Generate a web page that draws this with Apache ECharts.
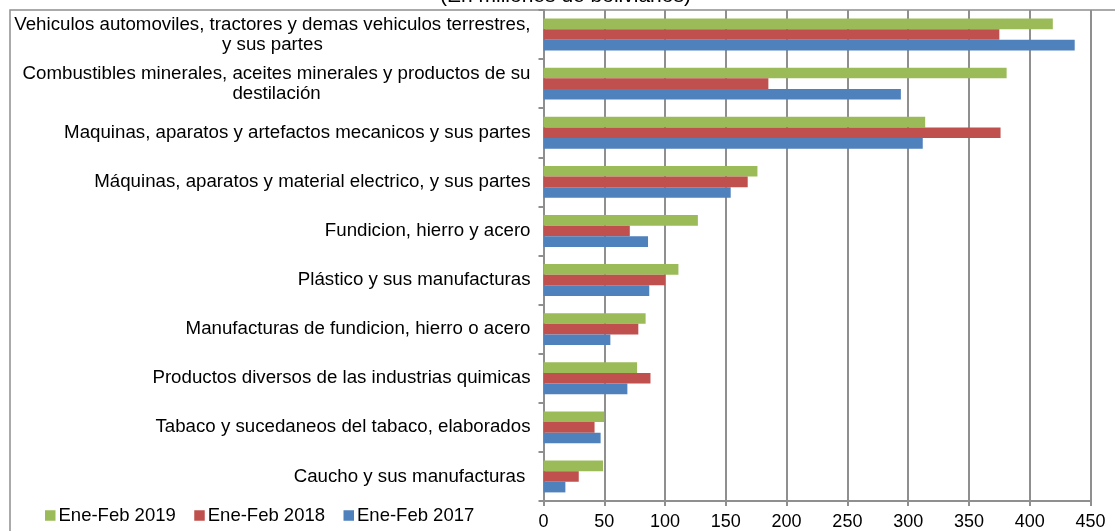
<!DOCTYPE html>
<html>
<head>
<meta charset="utf-8">
<title>Importaciones</title>
<script src="https://cdn.jsdelivr.net/npm/echarts@6/dist/echarts.min.js"></script>
<style>
  html, body {
    margin: 0;
    padding: 0;
    background: #fff;
  }
  .charts-wrapper {
    width: 1115px;
    height: 531px;
  }
</style>
</head>
<body>
<div class="charts-wrapper" id="bar-chart"></div>
<script>
// categorias (de arriba hacia abajo)
var categories = [
  "Vehiculos automoviles, tractores y demas vehiculos terrestres,\ny sus partes",
  "Combustibles minerales, aceites minerales y productos de su\ndestilación",
  "Maquinas, aparatos y artefactos mecanicos y sus partes",
  "Máquinas, aparatos y material electrico, y sus partes",
  "Fundicion, hierro y acero",
  "Plástico y sus manufacturas",
  "Manufacturas de fundicion, hierro o acero",
  "Productos diversos de las industrias quimicas",
  "Tabaco y sucedaneos del tabaco, elaborados",
  "Caucho y sus manufacturas "
];
var seriesNames = ["Ene-Feb 2019", "Ene-Feb 2018", "Ene-Feb 2017"];
var data2019 = [419, 381, 314, 176, 127, 111, 84, 77, 50, 49];
var data2018 = [375, 185, 376, 168, 71, 100, 78, 88, 42, 29];
var data2017 = [437, 294, 312, 154, 86, 87, 55, 69, 47, 18];
var xTicks = [0, 50, 100, 150, 200, 250, 300, 350, 400, 450];

var colors = ["#9bbb59", "#c0504d", "#4f81bd"];
var fontFamily = "'Liberation Sans', Arial, sans-serif";
var gridColor = "#8f8f8f";

var chart = echarts.init(document.getElementById("bar-chart"));

var seriesData = [data2019, data2018, data2017];
var series = seriesNames.map(function (name, i) {
  return {
    type: "bar",
    name: name,
    data: seriesData[i],
    barGap: "0%",
    barCategoryGap: "35%",
    itemStyle: {
      color: colors[i]
    }
  };
});

var option = {
  animation: false,
  textStyle: {
    fontFamily: fontFamily
  },
  title: {
    text: "(En millones de bolivianos)",
    left: 440,
    top: -14,
    padding: 0,
    textStyle: {
      color: "#000",
      fontSize: 21,
      fontWeight: "normal",
      fontFamily: fontFamily
    }
  },
  // marco exterior del grafico
  graphic: [
    {
      type: "rect",
      z: -10,
      shape: { x: 10, y: 10, width: 1200, height: 600 },
      style: { fill: "none", stroke: gridColor, lineWidth: 1.5 }
    }
  ],
  legend: {
    left: 45,
    top: 506,
    padding: 0,
    itemWidth: 10.5,
    itemHeight: 10.5,
    itemGap: 18.5,
    icon: "rect",
    data: seriesNames,
    textStyle: {
      color: "#000",
      fontSize: 18.5,
      fontFamily: fontFamily,
      padding: [0, 0, 0, -2]
    }
  },
  grid: {
    left: 543.5,
    right: 24.5,
    top: 10,
    bottom: 29.5
  },
  xAxis: {
    type: "value",
    min: xTicks[0],
    max: xTicks[xTicks.length - 1],
    interval: xTicks[1] - xTicks[0],
    axisLine: {
      show: true,
      lineStyle: { color: gridColor, width: 2 }
    },
    axisTick: {
      show: true,
      length: 5,
      lineStyle: { color: gridColor, width: 2 }
    },
    splitLine: {
      show: true,
      lineStyle: { color: gridColor, width: 2 }
    },
    axisLabel: {
      margin: 12,
      color: "#000",
      fontSize: 18,
      fontFamily: fontFamily
    }
  },
  yAxis: {
    type: "category",
    inverse: true,
    data: categories,
    axisLine: {
      show: true,
      lineStyle: { color: gridColor, width: 2 }
    },
    axisTick: {
      show: true,
      length: 5,
      lineStyle: { color: gridColor, width: 2 }
    },
    axisLabel: {
      margin: 13,
      color: "#000",
      formatter: function (value) {
        // cada linea centrada dentro del bloque
        return value.split("\n").map(function (s) {
          return "{c|" + s + "}";
        }).join("\n");
      },
      rich: {
        c: {
          align: "center",
          fontSize: 18.7,
          lineHeight: 20,
          color: "#000",
          fontFamily: fontFamily
        }
      }
    }
  },
  series: series
};

chart.setOption(option);
</script>
</body>
</html>
